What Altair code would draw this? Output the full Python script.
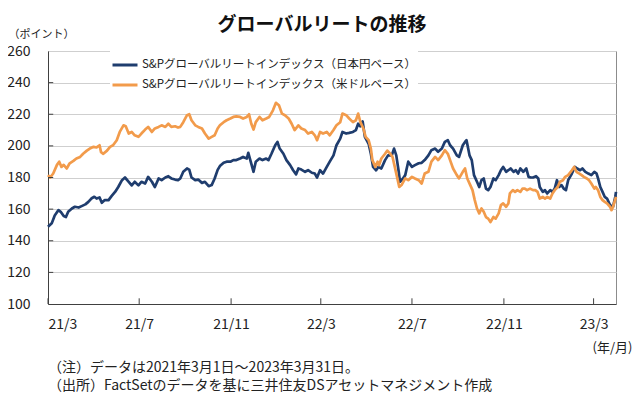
import altair as alt
import pandas as pd

FONT = "Noto Sans CJK JP"
START = "2021-03-01"

title_text = "グローバルリートの推移"
series_names = ["S&Pグローバルリートインデックス（日本円ベース）",
                "S&Pグローバルリートインデックス（米ドルベース）"]
series_colors = ["#1f3d6e", "#f29b4b"]

# days after 2021-03-01, index level (JPY basis)
jpy_days = [0, 5, 9, 14, 17, 21, 24, 27, 32, 36, 41, 45, 50, 54, 58, 62, 65, 69, 72, 76,
            81, 85, 90, 94, 99, 103, 108, 112, 116, 121, 125, 130, 134, 139, 143, 148, 152, 157, 161, 165,
            170, 174, 177, 181, 186, 189, 192, 197, 201, 206, 210, 215, 219, 223, 227, 230, 235, 239, 244, 248,
            252, 257, 261, 266, 268, 272, 275, 278, 283, 287, 292, 295, 299, 304, 307, 310, 315, 319, 324, 328,
            332, 335, 339, 344, 348, 353, 357, 360, 364, 368, 373, 377, 382, 386, 391, 394, 399, 403, 408, 412,
            415, 418, 421, 424, 429, 432, 435, 439, 442, 446, 451, 455, 460, 463, 466, 469, 471, 475, 478, 482,
            487, 491, 496, 500, 504, 509, 513, 518, 522, 527, 531, 535, 538, 542, 547, 550, 555, 558, 560, 564,
            567, 570, 574, 577, 580, 583, 586, 589, 592, 596, 599, 603, 606, 609, 613, 616, 619, 623, 626, 629,
            632, 636, 640, 643, 646, 649, 653, 656, 658, 662, 665, 668, 672, 675, 678, 681, 684, 687, 690, 693,
            696, 701, 705, 708, 712, 715, 719, 723, 727, 731, 734, 736, 739, 742, 745, 748, 752, 756, 759, 760]
jpy_values = [148.8, 151, 156, 159.4, 158.3, 155.6, 155, 158.3, 160.4, 161.5, 161, 161.9, 163, 164.6, 166.7, 167.8, 166.7, 167.4, 164, 165.7,
              165.7, 168.2, 171, 174, 178.3, 180, 177.3, 175, 177.3, 175, 177.3, 176.2, 180.4, 177.3, 174, 179.4, 178.3, 180, 180.8, 179.4,
              178.7, 178.3, 179.4, 183.6, 185.7, 185, 180, 178.3, 178.7, 176.6, 177.3, 174.5, 175.2, 179.4, 184.8, 187.2, 189.3, 190, 190, 191,
              191, 192, 193, 192, 195.6, 188.8, 183.6, 190, 192, 191, 192, 191, 195, 200.4, 202.5, 198.3, 195, 191, 187.8, 184.6,
              182, 185.7, 185, 183.6, 184.6, 183, 182.5, 180, 184.6, 182.5, 186.7, 190, 194, 200.4, 204.6, 208.8, 207.8, 208.2, 208.8, 210,
              214, 212.4, 215.5, 205.7, 201.3, 195, 186.7, 184.6, 186.7, 185.7, 191, 194, 194, 198.3, 194, 184.6, 177.3, 179.4, 181.5, 190,
              186.7, 187.8, 189, 189.3, 191, 194, 197.3, 198.3, 196.3, 198.3, 202.5, 203.6, 200.4, 198.3, 194, 193, 200.4, 202.5, 203.6, 194,
              191, 181.5, 177.3, 174, 178.3, 179.4, 173, 172, 174, 179.4, 178.3, 181.5, 184.6, 186.7, 183.6, 184.6, 185.7, 183.6, 184.6, 182.5,
              185.7, 183.6, 185.7, 180.4, 180, 180, 180.8, 179.4, 174, 170.9, 172, 169.9, 172, 170.9, 173, 178.3, 174, 175.2, 173, 172,
              178.3, 182.5, 186.7, 185.7, 184.6, 185.7, 183.6, 182.5, 181.5, 183.6, 182.5, 179.4, 174, 170.9, 167.7, 166.7, 162.5, 161.5, 167.7, 170.9]

# days after 2021-03-01, index level (USD basis)
usd_days = [0, 3, 7, 12, 15, 18, 21, 25, 29, 34, 38, 43, 47, 52, 56, 61, 65, 69, 71, 74,
            79, 83, 87, 92, 96, 101, 104, 108, 112, 116, 121, 125, 130, 134, 139, 143, 148, 152, 157, 161,
            165, 170, 174, 177, 181, 186, 189, 192, 197, 201, 206, 210, 215, 219, 223, 227, 230, 235, 239, 244,
            248, 252, 257, 261, 266, 269, 272, 275, 278, 283, 287, 292, 296, 301, 305, 309, 313, 317, 322, 326,
            330, 335, 339, 344, 348, 353, 357, 360, 364, 368, 373, 377, 382, 386, 391, 394, 399, 403, 408, 412,
            415, 418, 422, 425, 429, 432, 434, 438, 441, 443, 446, 451, 454, 458, 461, 464, 467, 470, 473, 478,
            482, 487, 491, 496, 500, 504, 509, 513, 518, 522, 527, 531, 535, 538, 542, 547, 550, 555, 558, 561,
            565, 568, 571, 574, 577, 580, 583, 586, 589, 592, 596, 599, 603, 606, 609, 613, 616, 618, 622, 625,
            628, 632, 635, 638, 641, 645, 649, 652, 655, 658, 662, 665, 668, 672, 675, 678, 682, 685, 689, 692,
            696, 701, 704, 707, 711, 714, 717, 721, 724, 727, 731, 733, 736, 739, 742, 745, 748, 752, 754, 756, 760]
usd_values = [181.5, 180, 182.5, 188, 190, 186.7, 188, 185.7, 189, 190.5, 192, 193, 195, 197, 198.3, 199.4, 199, 200.4, 196, 195,
              197, 199.4, 200.4, 203.6, 208.8, 213, 212.4, 207.8, 208.8, 206.7, 205.7, 207.8, 210.3, 212, 208.8, 211, 212, 213, 212, 214,
              212, 212.4, 211.6, 212, 215, 219.4, 220, 216.2, 213, 212, 211, 207.8, 204.6, 205.7, 206.7, 211, 213, 215, 216.2, 217.3,
              218.3, 218.7, 218.3, 217.3, 218.3, 220, 214, 210.3, 215, 218.3, 216.2, 217.3, 218.3, 222.5, 227.2, 225.7, 220.4, 219.4, 217.3, 214,
              210, 213, 211, 210, 207.8, 208.8, 206.7, 203.6, 208.8, 207.8, 208.8, 206.7, 210, 213, 215, 220.4, 219.4, 217.3, 215, 216.2,
              220.4, 215, 211, 205.7, 203.6, 198.3, 191, 186.7, 190, 187.8, 192, 195, 197, 195, 193, 186.7, 180.4, 174, 175.2, 179.4,
              178.3, 180.4, 179.4, 178.3, 176.2, 182.5, 183.6, 190, 193, 191, 194, 197.3, 195, 191, 185.7, 181.5, 179.4, 183.6, 185.7, 179.4,
              175.2, 172, 165.7, 160.4, 157.3, 160.4, 158.3, 155, 154, 151.8, 155, 154, 157.3, 162.5, 163.6, 161.5, 163.6, 169.9, 172, 170.9,
              172, 170.9, 173, 173, 172, 173, 172, 172, 170.9, 166.7, 167.7, 166.7, 167.7, 166.7, 169.9, 172, 174, 177.3, 178.3, 180.4,
              181.5, 184.6, 186.7, 183.6, 182.5, 181.5, 180.4, 179.4, 178.3, 176.2, 173, 174, 172, 167.7, 165.7, 164.6, 163.6, 161.5, 159.4, 161.5, 167.7]

tick_dates = ["2021-03-01", "2021-07-01", "2021-11-01", "2022-03-01",
              "2022-07-01", "2022-11-01", "2023-03-01"]
y_ticks = [100, 120, 140, 160, 180, 200, 220, 240, 260]

y_title = "（ポイント）"
x_title = "(年/月)"
notes = ["（注）データは2021年3月1日～2023年3月31日。",
         "（出所）FactSetのデータを基に三井住友DSアセットマネジメント作成"]


def to_dates(days):
    return (pd.Timestamp(START) + pd.to_timedelta(days, unit="D")).strftime("%Y-%m-%d")


jpy_df = pd.DataFrame({"date": to_dates(jpy_days), "value": jpy_values, "series": series_names[0]})
usd_df = pd.DataFrame({"date": to_dates(usd_days), "value": usd_values, "series": series_names[1]})
xt_df = pd.DataFrame({"date": tick_dates, "value": 100, "top": 103.6})
yt_df = pd.DataFrame({"date": START, "end": "2021-03-08", "value": y_ticks[1:-1]})


def dt(s):
    t = pd.Timestamp(s)
    return alt.DateTime(year=t.year, month=t.month, date=t.day, utc=True)


x_scale = alt.Scale(type="utc", domain=[dt("2021-03-01"), dt("2023-03-31")])
y_scale = alt.Scale(domain=[100, 260], nice=False, zero=False)


def x_axis():
    return alt.Axis(values=[dt(d) for d in tick_dates],
                    labelExpr="utcFormat(datum.value, '%y/%-m')",
                    ticks=False, grid=False, labelPadding=13, labelFontSize=14,
                    labelFont=FONT, labelColor="#222222", domainColor="#404040",
                    title=x_title, titleX=584, titleY=43, titleAlign="right",
                    titleBaseline="middle", titleFontSize=13, titleFontWeight="normal",
                    titleFont=FONT, titleColor="#222222", labelOverlap=False)


def y_axis():
    return alt.Axis(values=y_ticks, ticks=False, grid=True, gridColor="#cfcfcf",
                    labelPadding=18, labelFontSize=14, labelFont=FONT, labelColor="#222222",
                    domainColor="#404040", labelOverlap=False,
                    title=y_title, titleAngle=0, titleX=-40, titleY=-17, titleAlign="left",
                    titleBaseline="middle", titleFontSize=11, titleFontWeight="normal",
                    titleFont=FONT, titleColor="#222222")


X = alt.X("date:T", scale=x_scale, axis=x_axis())
Y = alt.Y("value:Q", scale=y_scale, axis=y_axis())

color = alt.Color("series:N",
                  scale=alt.Scale(domain=series_names, range=series_colors),
                  legend=alt.Legend(orient="none", legendX=62, legendY=-1, title=None,
                                    symbolType="stroke", symbolSize=625, symbolStrokeWidth=3,
                                    labelFont=FONT, labelFontSize=11.5, labelColor="#222222",
                                    labelOffset=3, rowPadding=0, fillColor="white",
                                    padding=1, labelLimit=400))

jpy_line = alt.Chart(jpy_df).mark_line(strokeWidth=2.7, strokeJoin="round").encode(
    x=X, y=Y, color=color)
usd_line = alt.Chart(usd_df).mark_line(strokeWidth=2.7, strokeJoin="round").encode(
    x=X, y=Y, color=color)

x_ticks = alt.Chart(xt_df).mark_rule(color="#404040", strokeWidth=1).encode(
    x=X, y=Y, y2="top:Q")
y_tick_marks = alt.Chart(yt_df).mark_rule(color="#404040", strokeWidth=1).encode(
    x=X, x2="end:T", y=Y)

title_mark = alt.Chart(pd.DataFrame({"t": [title_text]})).mark_text(
    font=FONT, fontSize=19, fontWeight="bold", align="center", baseline="middle", color="#111111"
).encode(text="t:N", x=alt.value(274), y=alt.value(-26))

note1 = alt.Chart(pd.DataFrame({"t": [notes[0]]})).mark_text(
    font=FONT, fontSize=14, align="left", baseline="middle", color="#222222"
).encode(text="t:N", x=alt.value(0), y=alt.value(317))
note2 = alt.Chart(pd.DataFrame({"t": [notes[1]]})).mark_text(
    font=FONT, fontSize=14, align="left", baseline="middle", color="#222222"
).encode(text="t:N", x=alt.value(0), y=alt.value(335))

chart = alt.layer(jpy_line, usd_line, x_ticks, y_tick_marks, title_mark, note1, note2).properties(
    width=568, height=253,
    padding={"left": 40, "top": 43, "right": 16, "bottom": 90},
    autosize=alt.AutoSizeParams(type="none"),
    background="white",
).configure_view(stroke="#8c8c8c", strokeWidth=1).configure_axis(labelOverlap=False)

chart.save("out.html", embed_options={"renderer": "svg", "actions": False})
